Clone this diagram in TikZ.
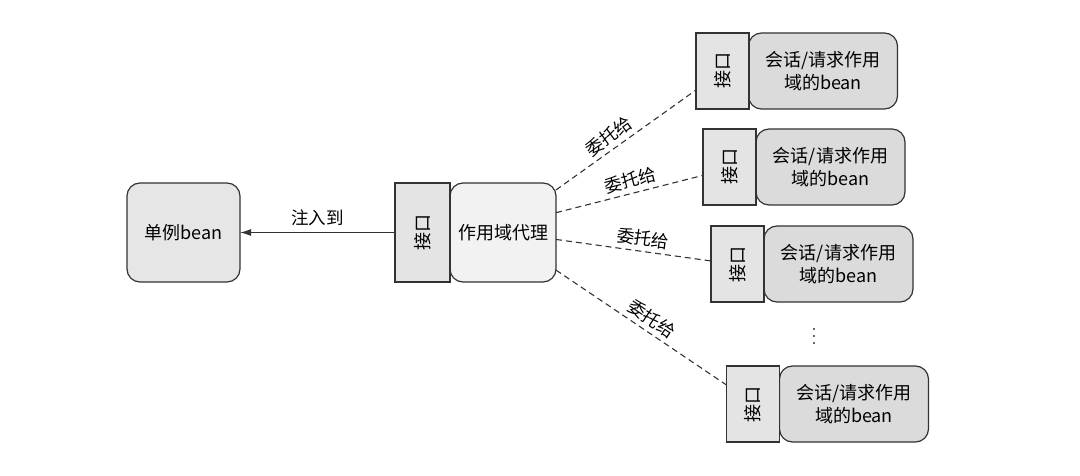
\documentclass[tikz,border=0pt]{standalone}
\usepackage{fontspec}
\setmainfont{Noto Sans CJK SC}
\usetikzlibrary{arrows.meta,calc}
\definecolor{ifacegray}{HTML}{E4E4E4}
\definecolor{singlegray}{HTML}{E6E6E6}
\definecolor{proxygray}{HTML}{F2F2F2}
\definecolor{targetgray}{HTML}{DBDBDB}
\definecolor{linegray}{HTML}{333333}
\tikzset{
  lbl/.style={font=\fontsize{17.5}{21}\selectfont, text=black},
  boxbase/.style={draw=linegray, line width=1.2pt, inner sep=0pt, outer sep=0pt, align=center, font=\fontsize{18}{23}\selectfont},
  single/.style={boxbase, rounded corners=13pt, fill=singlegray, minimum width=113pt, minimum height=99pt},
  iface/.style={boxbase, fill=ifacegray, minimum width=53pt},
  pbody/.style={boxbase, rounded corners=13pt, fill=proxygray, minimum width=106pt, minimum height=99pt},
  tbody/.style={boxbase, rounded corners=13pt, fill=targetgray, minimum width=149pt, minimum height=76pt},
  dele/.style={draw=linegray, line width=1.1pt, dash pattern=on 6pt off 4pt},
}
\newcommand{\ifacetext}{\rotatebox{90}{接口}}
\begin{document}
\begin{tikzpicture}[x=1pt,y=-1pt]
\useasboundingbox (0,0) rectangle (1080,476);
% singleton
\node[single] (single) at (183.5,232.5) {单例bean};
% proxy
\node[pbody] (pb) at (503,232.5) {作用域代理};
\node[iface, minimum height=99pt, minimum width=55pt] (pi) at (422.5,232.5) {\ifacetext};
% targets
\node[tbody] (b1) at (823,71) {会话/请求作用\\域的bean};
\node[iface, minimum height=76pt] (i1) at (722.5,71) {\ifacetext};
\node[tbody] (b2) at (830.5,167) {会话/请求作用\\域的bean};
\node[iface, minimum height=76pt] (i2) at (729.5,167) {\ifacetext};
\node[tbody] (b3) at (838.5,264) {会话/请求作用\\域的bean};
\node[iface, minimum height=76pt] (i3) at (737.5,264) {\ifacetext};
\node[tbody] (b4) at (854,404) {会话/请求作用\\域的bean};
\node[iface, minimum height=76pt] (i4) at (753,404) {\ifacetext};
% injection arrow
\draw[draw=linegray, line width=1.2pt, -{Latex[length=11pt,width=7pt]}] (pi.west) -- node[lbl, above=3pt] {注入到} (single.east);
% delegation
\draw[dele] ($(pb.north east)!0.07!(pb.south east)$) -- node[lbl, sloped, above=1pt, pos=0.43] {委托给} ($(i1.north west)!0.75!(i1.south west)$);
\draw[dele] ($(pb.north east)!0.30!(pb.south east)$) -- node[lbl, sloped, above=1pt, pos=0.53] {委托给} ($(i2.north west)!0.61!(i2.south west)$);
\draw[dele] ($(pb.north east)!0.57!(pb.south east)$) -- node[lbl, sloped, above=1pt, pos=0.55] {委托给} ($(i3.north west)!0.46!(i3.south west)$);
\draw[dele] ($(pb.north east)!0.88!(pb.south east)$) -- node[lbl, sloped, above=1pt, pos=0.52] {委托给} ($(i4.north west)!0.25!(i4.south west)$);
% vertical ellipsis
\fill[linegray] (814,329) circle (1.2pt) (814,336) circle (1.2pt) (814,343) circle (1.2pt);
\end{tikzpicture}
\end{document}
